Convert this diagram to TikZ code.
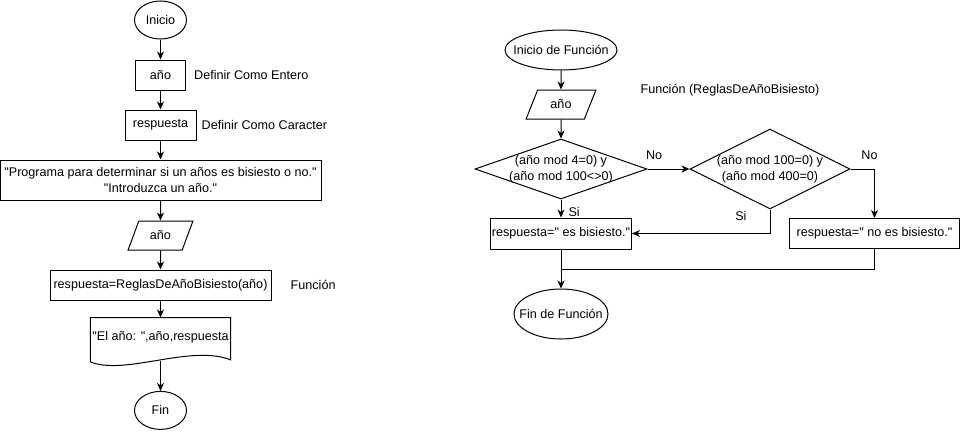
\documentclass[tikz,border=0pt]{standalone}
\usepackage{fontspec}
\setmainfont{Liberation Sans}[Ligatures=TeXOff]
\usepackage{tikz}
\usetikzlibrary{arrows.meta,positioning,shapes.geometric,calc}
\definecolor{ink}{HTML}{000000}
\tikzset{
  basefont/.style={font=\fontsize{12.6}{16.5}\selectfont},
  termnode/.style={
    ellipse,
    draw=ink,
    line width=1pt,
    basefont,
    inner xsep=-30pt,
    inner ysep=-10pt,
    minimum width=52pt,
    minimum height=38pt
  },
  procnode/.style={
    rectangle,
    draw=ink,
    line width=1pt,
    basefont,
    align=center,
    inner sep=1pt,
    minimum height=30pt
  },
  ionode/.style={
    trapezium,
    trapezium left angle=63,
    trapezium right angle=117,
    trapezium stretches=true,
    draw=ink,
    line width=1pt,
    basefont,
    inner sep=1pt,
    minimum width=65pt,
    minimum height=29pt
  },
  decnode/.style={
    diamond,
    draw=ink,
    line width=1pt,
    basefont,
    align=center,
    inner sep=-25pt
  },
  docnode/.style={
    rectangle,
    basefont,
    inner sep=1pt,
    minimum width=140pt,
    minimum height=40pt
  },
  notelabel/.style={basefont, inner sep=0pt},
  shapeline/.style={draw=ink, line width=1pt},
  flowarrow/.style={-{Stealth[length=8pt,width=7pt,inset=2.5pt]},line width=1pt,draw=ink},
  flowline/.style={line width=1pt,draw=ink}
}
\begin{document}
\begin{tikzpicture}[x=1pt, y=-1pt, node distance=19pt]
  \path[fill=white, use as bounding box] (0,0) rectangle (961,431);
  % programa principal
  \node[termnode] (inicio) at (160.5,20) {Inicio};
  \node[procnode, minimum width=50pt, below=20pt of inicio] (anio) {año};
  \node[procnode, minimum width=71pt, below=of anio] (resp) {respuesta};
  \node[procnode, minimum width=321pt, minimum height=40pt, below=of resp] (msg)
    {"Programa para determinar si un años es bisiesto o no."\\"Introduzca un año."};
  \node[ionode, below=20pt of msg] (leer) {año};
  \node[procnode, minimum width=221pt, below=of leer] (llamada) {respuesta=ReglasDeAñoBisiesto(año)};
  \node[docnode, below=17pt of llamada] (salida) {"El año: ",año,respuesta};
  \node[termnode, below=33pt of salida] (fin) {Fin};
  \draw[shapeline] (salida.north west) -- (salida.north east) -- ([yshift=-2pt]salida.south east)
    .. controls ([xshift=-40pt,yshift=14pt]salida.south east) and ([xshift=35pt,yshift=-18pt]salida.south west)
    .. ([yshift=-4pt]salida.south west) -- cycle;
  \node[notelabel, right=8pt of anio] (defent) {Definir Como Entero};
  \node[notelabel, right=5pt of resp] (defcar) {Definir Como Caracter};
  \node[notelabel, right=19pt of llamada] (funlbl) {Función};
  \draw[flowarrow] (inicio) -- (anio);
  \draw[flowarrow] (anio) -- (resp);
  \draw[flowarrow] (resp) -- (msg);
  \draw[flowarrow] (msg) -- (leer);
  \draw[flowarrow] (leer) -- (llamada);
  \draw[flowarrow] (llamada) -- (salida);
  \draw[flowarrow] ([yshift=-3pt]salida.south) -- (fin);
  % funcion
  \node[termnode, minimum width=112pt, minimum height=40pt] (finicio) at (561,50) {Inicio de Función};
  \node[ionode, minimum width=70pt, below=of finicio] (fleer) {año};
  \node[notelabel] (titulo) at (730,90) {Función (ReglasDeAñoBisiesto)};
  \node[decnode, minimum width=172pt, minimum height=60pt, below=of fleer] (cond1)
    {(año mod 4=0) y\\(año mod 100<>0)};
  \node[procnode, minimum width=141pt, minimum height=31pt, below=18pt of cond1] (essi) {respuesta=" es bisiesto."};
  \node[termnode, minimum width=94pt, minimum height=50pt, below=39pt of essi] (ffin) {Fin de Función};
  \node[decnode, minimum width=160pt, minimum height=80pt, right=42pt of cond1] (cond2)
    {(año mod 100=0) y\\(año mod 400=0)};
  \node[procnode, minimum width=170pt, right=157pt of essi] (esno) {respuesta=" no es bisiesto."};
  \coordinate (union) at ($(essi.south)!0.5!(ffin.north)$);
  \draw[flowarrow] (finicio) -- (fleer);
  \draw[flowarrow] (fleer) -- (cond1);
  \draw[flowarrow] (cond1) -- node[notelabel, pos=0.7, right=7pt] {Si} (essi);
  \draw[flowarrow] (cond1.east) -- node[notelabel, pos=0, anchor=south west, xshift=-2pt, yshift=9pt] {No} (cond2.west);
  \draw[flowarrow] (cond2.east) -| node[notelabel, pos=0.5, anchor=south, xshift=-5pt, yshift=9pt] {No} (esno.north);
  \draw[flowarrow] (cond2.south) |- node[notelabel, pos=0.14, left=23pt] {Si} (essi.east);
  \draw[flowarrow] (essi) -- (ffin);
  \draw[flowline] (esno.south) |- (union);
\end{tikzpicture}
\end{document}
